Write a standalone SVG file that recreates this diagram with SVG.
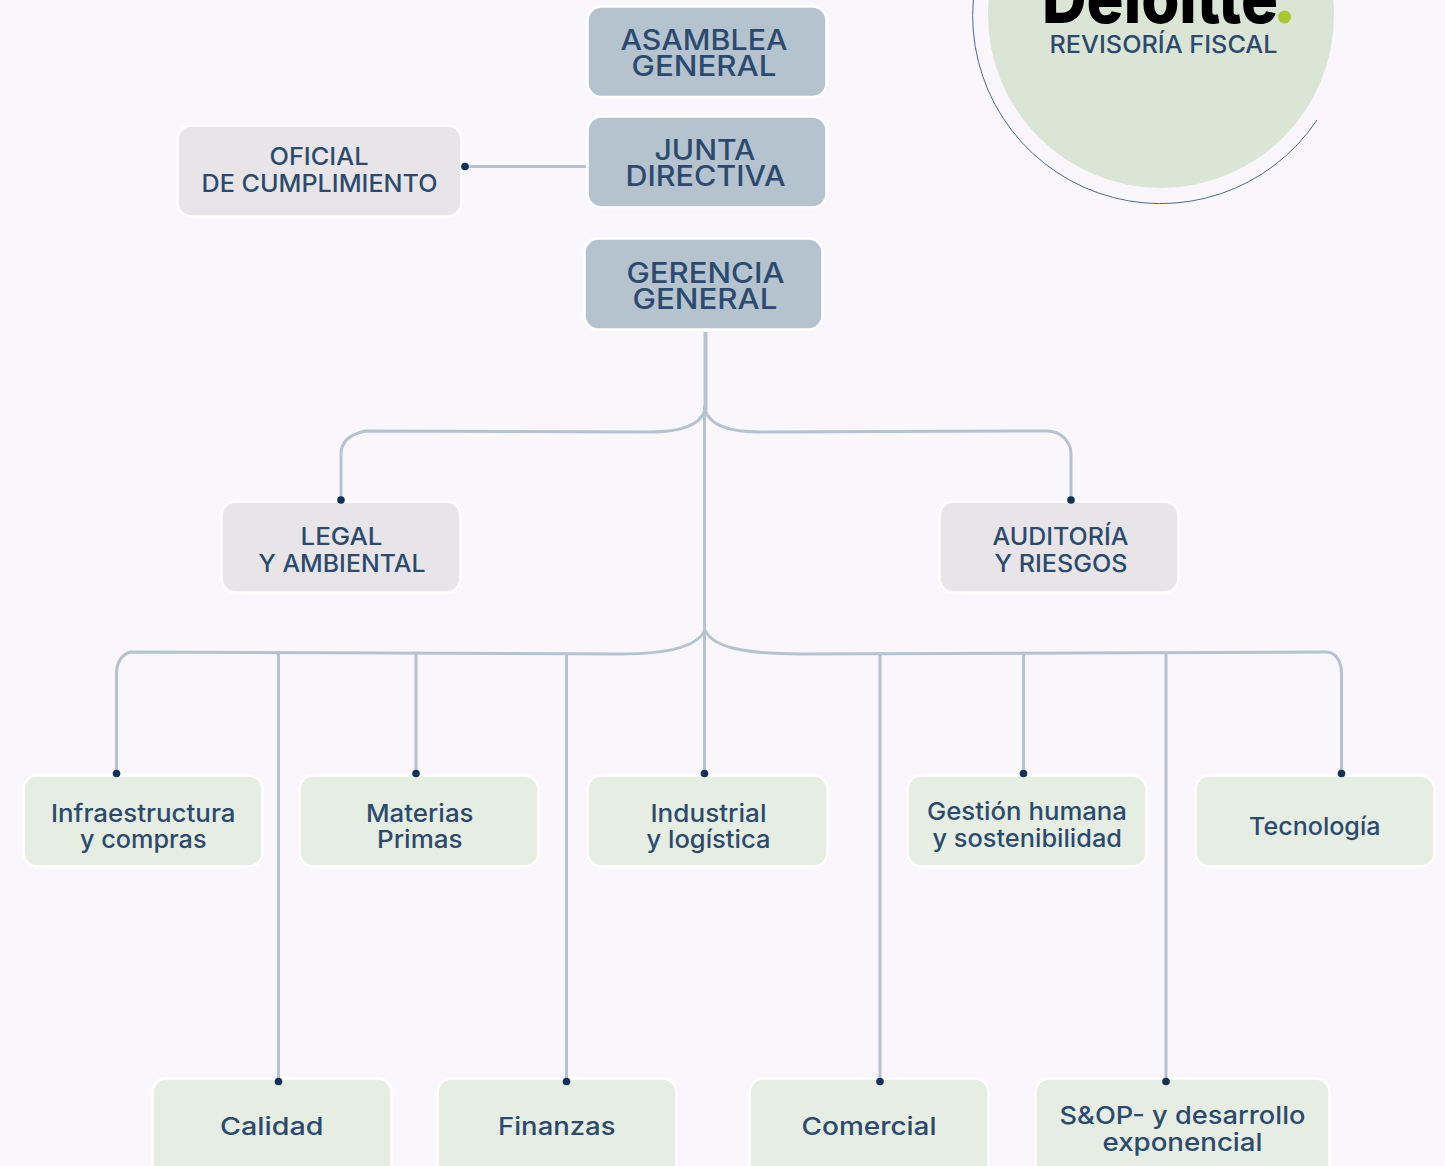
<svg xmlns="http://www.w3.org/2000/svg" width="1445" height="1166" viewBox="0 0 1445 1166">
<style>
text{font-family:"Inter","Liberation Sans",sans-serif;fill:#2c4a6e;text-anchor:start}
.box{stroke:#fff;stroke-width:2.5}
.a{fill:#b4c3ce}.b{fill:#e8e5e9}.c{fill:#e6eee3}
.t1{font-size:28px;font-weight:500}.t2{font-size:24px;font-weight:500}.t3{font-size:24.500px;font-weight:500}
.l{fill:none;stroke:#b4c3ce;stroke-width:3}
.d{fill:#0f3358}
</style>
<rect width="1445" height="1166" fill="#f9f7fb"/>
<g id="logo">
<circle cx="1161" cy="15" r="173" fill="#dbe5d6"/>
<path d="M973.300 0A188 188 0 0 0 1317 120" fill="none" stroke="#4a6a8f" stroke-width="1"/>
<text x="1042" y="23" font-size="70" font-weight="800" textLength="236" lengthAdjust="spacingAndGlyphs" style="fill:#000">Deloitte</text>
<circle cx="1284.500" cy="17" r="6.500" fill="#a6c72f"/>
<text x="1049.500" y="52.500" class="t2" textLength="228" lengthAdjust="spacingAndGlyphs">REVISORÍA FISCAL</text>
</g>
<g id="asamblea"><rect class="box a" x="587.500" y="6.500" width="239" height="90.500" rx="14"/><text class="t1" x="620.500" y="49.500" textLength="167" lengthAdjust="spacingAndGlyphs">ASAMBLEA</text><text class="t1" x="631.500" y="76" textLength="145" lengthAdjust="spacingAndGlyphs">GENERAL</text></g>
<g id="junta"><rect class="box a" x="587.500" y="116.500" width="239" height="91" rx="14"/><text class="t1" x="654.500" y="159.500" textLength="101" lengthAdjust="spacingAndGlyphs">JUNTA</text><text class="t1" x="625.500" y="186" textLength="160" lengthAdjust="spacingAndGlyphs">DIRECTIVA</text></g>
<g id="gerencia"><rect class="box a" x="584.500" y="238.500" width="238" height="91" rx="14"/><text class="t1" x="626.500" y="282.500" textLength="158" lengthAdjust="spacingAndGlyphs">GERENCIA</text><text class="t1" x="632.500" y="308.500" textLength="145" lengthAdjust="spacingAndGlyphs">GENERAL</text></g>
<g id="oficial"><rect class="box b" x="177.500" y="125.500" width="284" height="91" rx="14"/><text class="t2" x="269.500" y="165" textLength="99" lengthAdjust="spacingAndGlyphs">OFICIAL</text><text class="t2" x="201.500" y="192" textLength="236" lengthAdjust="spacingAndGlyphs">DE CUMPLIMIENTO</text></g>
<g id="legal"><rect class="box b" x="221.500" y="501.500" width="239" height="91" rx="14"/><text class="t2" x="300.500" y="545" textLength="82" lengthAdjust="spacingAndGlyphs">LEGAL</text><text class="t2" x="258.500" y="572" textLength="167" lengthAdjust="spacingAndGlyphs">Y AMBIENTAL</text></g>
<g id="auditoria"><rect class="box b" x="939.500" y="501.500" width="239" height="91" rx="14"/><text class="t2" x="992.500" y="545" textLength="136" lengthAdjust="spacingAndGlyphs">AUDITORÍA</text><text class="t2" x="994.500" y="572" textLength="133" lengthAdjust="spacingAndGlyphs">Y RIESGOS</text></g>
<g id="infraestructura"><rect class="box c" x="23.500" y="775.500" width="239" height="91" rx="14"/><text class="t3" x="51" y="822" textLength="184.500" lengthAdjust="spacingAndGlyphs">Infraestructura</text><text class="t3" x="80" y="848" textLength="126.500" lengthAdjust="spacingAndGlyphs">y compras</text></g>
<g id="materias"><rect class="box c" x="299.500" y="775.500" width="239" height="91" rx="14"/><text class="t3" x="366" y="822" textLength="107.500" lengthAdjust="spacingAndGlyphs">Materias</text><text class="t3" x="377" y="848" textLength="85.500" lengthAdjust="spacingAndGlyphs">Primas</text></g>
<g id="industrial"><rect class="box c" x="587.500" y="775.500" width="240" height="91" rx="14"/><text class="t3" x="650.500" y="822" textLength="116" lengthAdjust="spacingAndGlyphs">Industrial</text><text class="t3" x="646.500" y="848" textLength="124" lengthAdjust="spacingAndGlyphs">y logística</text></g>
<g id="gestion"><rect class="box c" x="907.500" y="775.500" width="239" height="91" rx="14"/><text class="t3" x="927" y="820" textLength="200" lengthAdjust="spacingAndGlyphs">Gestión humana</text><text class="t3" x="932.500" y="847" textLength="189.500" lengthAdjust="spacingAndGlyphs">y sostenibilidad</text></g>
<g id="tecnologia"><rect class="box c" x="1195.500" y="775.500" width="239" height="91" rx="14"/><text class="t3" x="1249" y="834.500" textLength="131.500" lengthAdjust="spacingAndGlyphs">Tecnología</text></g>
<g id="calidad"><rect class="box c" x="152.500" y="1078.500" width="239" height="100" rx="14"/><text class="t3" x="220" y="1134.500" textLength="103.500" lengthAdjust="spacingAndGlyphs">Calidad</text></g>
<g id="finanzas"><rect class="box c" x="437.500" y="1078.500" width="239" height="100" rx="14"/><text class="t3" x="498" y="1134.500" textLength="117.500" lengthAdjust="spacingAndGlyphs">Finanzas</text></g>
<g id="comercial"><rect class="box c" x="749.500" y="1078.500" width="239" height="100" rx="14"/><text class="t3" x="801.500" y="1134.500" textLength="135" lengthAdjust="spacingAndGlyphs">Comercial</text></g>
<g id="sop"><rect class="box c" x="1035.500" y="1078.500" width="294" height="100" rx="14"/><text class="t3" x="1059.500" y="1124" textLength="246" lengthAdjust="spacingAndGlyphs">S&amp;OP- y desarrollo</text><text class="t3" x="1102.500" y="1151" textLength="160" lengthAdjust="spacingAndGlyphs">exponencial</text></g>
<g id="connectors">
<path class="l" style="stroke-width:4" d="M705.500 332V410"/>
<path class="l" d="M704.500 405V773"/>
<path class="l" d="M705 410C700 426 680 432 650 432L365 431C352 434 341 441 341 454V499"/>
<path class="l" d="M705 410C710 426 730 432 760 432L1047 431C1060 431 1071 441 1071 454V499"/>
<path class="l" d="M705 630C698 646 670 654 620 654L130 652C122 655 116.500 662 116.500 674V773"/>
<path class="l" d="M705 630C712 646 740 654 800 654L1326 652C1335 652 1341.500 660 1341.500 674V773"/>
<path class="l" d="M278.500 654V1081M416 654V773M566.500 654V1081M880 654V1081M1023.500 654V773M1166 654V1081"/>
<path class="l" d="M465 166.500H586"/>
<g class="d">
<circle cx="465" cy="166.500" r="3.800"/><circle cx="341" cy="500" r="3.800"/><circle cx="1071" cy="500" r="3.800"/>
<circle cx="116.500" cy="773.500" r="3.800"/><circle cx="416" cy="773.500" r="3.800"/><circle cx="704.500" cy="773.500" r="3.800"/><circle cx="1023.500" cy="773.500" r="3.800"/><circle cx="1341.500" cy="773.500" r="3.800"/>
<circle cx="278.500" cy="1081.500" r="3.800"/><circle cx="566.500" cy="1081.500" r="3.800"/><circle cx="880" cy="1081.500" r="3.800"/><circle cx="1166" cy="1081.500" r="3.800"/>
</g>
</g>
</svg>
